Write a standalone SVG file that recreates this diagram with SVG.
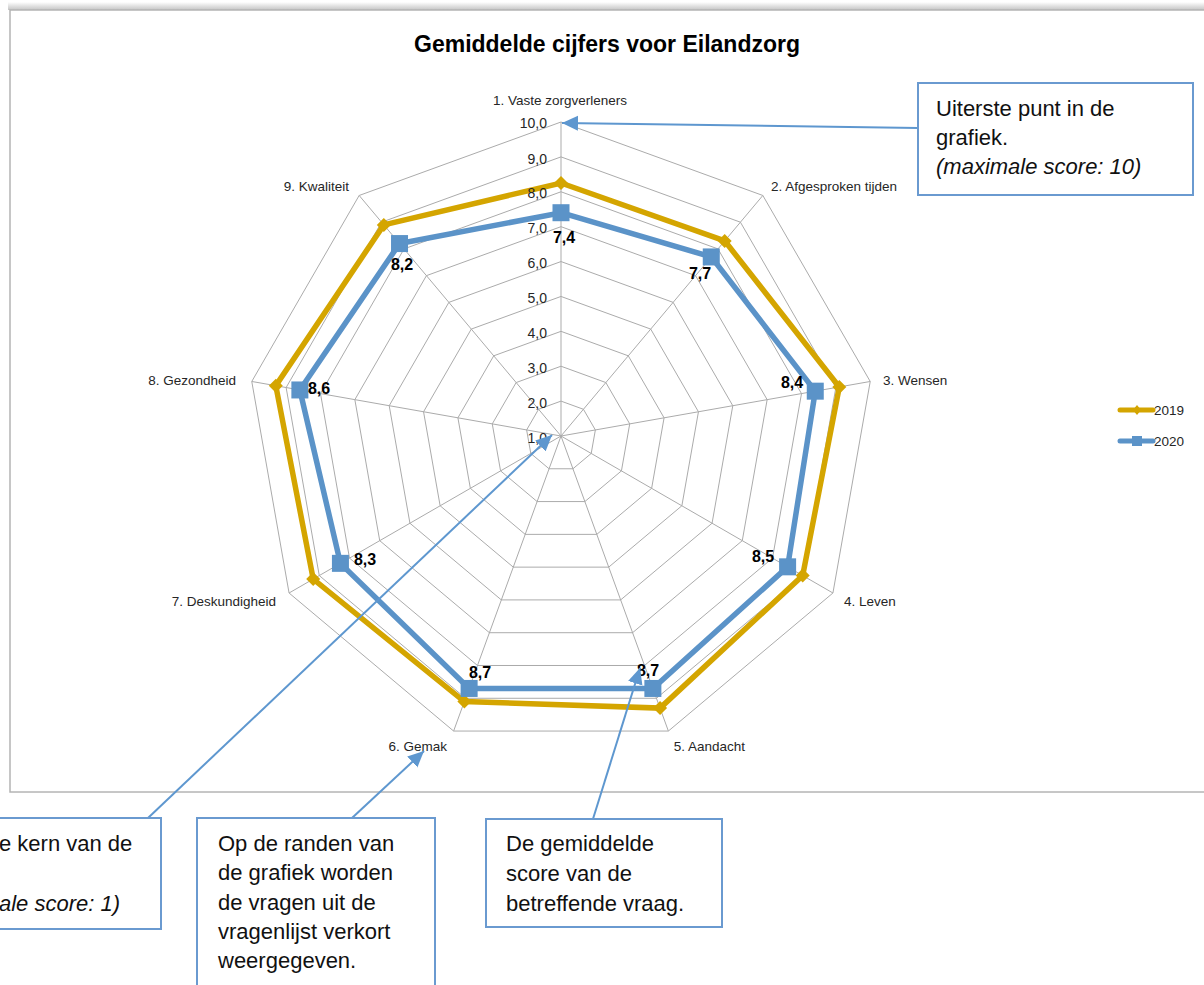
<svg xmlns="http://www.w3.org/2000/svg" xmlns:xlink="http://www.w3.org/1999/xlink" width="1204" height="985" viewBox="0 0 1204 985">
<defs>
<style>
text{font-family:"Liberation Sans",Arial,sans-serif;fill:#000}
.grid{fill:none;stroke:#ababab;stroke-width:1}
.spoke{stroke:#ababab;stroke-width:1}
.ax{font-size:13.5px;fill:#262626}
.tick{font-size:14px;fill:#262626;text-anchor:end}
.dl{font-size:16px;font-weight:bold;text-anchor:middle}
.s19{fill:none;stroke:#d4a500;stroke-width:5.5;stroke-linejoin:miter}
.s20{fill:none;stroke:#5b93c8;stroke-width:5.5;stroke-linejoin:miter}
.box{fill:#fff;stroke:#6a9ad0;stroke-width:2}
.bt{font-size:22px;fill:#111}
.conn{stroke:#5e97cf;stroke-width:2;fill:none}
.leg{font-size:13.5px;fill:#262626}
</style>
<path id="dia" d="M0,-7 L7,0 L0,7 L-7,0 Z" fill="#d4a500"/>
<rect id="sq" x="-8.5" y="-8.5" width="17" height="17" fill="#5b93c8"/>
<marker id="arr" markerUnits="userSpaceOnUse" markerWidth="18" markerHeight="16" refX="16" refY="7.5" orient="auto">
<path d="M0,0 L16,7.5 L0,15 Z" fill="#5e97cf"/>
</marker>
<linearGradient id="shadow" x1="0" y1="0" x2="0" y2="1">
<stop offset="0" stop-color="#ffffff"/>
<stop offset="1" stop-color="#c4c4c4"/>
</linearGradient>
</defs>
<rect x="0" y="0" width="1204" height="985" fill="#fff"/>
<rect x="8" y="2" width="1196" height="8" fill="url(#shadow)"/>
<g id="chart">
<rect x="10" y="10" width="1204" height="782" fill="#fff" stroke="#b4b4b4" stroke-width="1.5"/>
<text x="607" y="52" font-size="23" font-weight="bold" text-anchor="middle">Gemiddelde cijfers voor Eilandzorg</text>
<g transform="translate(561,436)">
<polygon class="grid" points="0,-34.89 22.43,-26.73 34.36,-6.06 30.21,17.44 11.93,32.78 -11.93,32.78 -30.21,17.44 -34.36,-6.06 -22.43,-26.73"/>
<polygon class="grid" points="0,-69.78 44.85,-53.45 68.72,-12.12 60.43,34.89 23.87,65.57 -23.87,65.57 -60.43,34.89 -68.72,-12.12 -44.85,-53.45"/>
<polygon class="grid" points="0,-104.67 67.28,-80.18 103.08,-18.18 90.64,52.33 35.8,98.36 -35.8,98.36 -90.64,52.33 -103.08,-18.18 -67.28,-80.18"/>
<polygon class="grid" points="0,-139.56 89.71,-106.91 137.44,-24.23 120.86,69.78 47.73,131.14 -47.73,131.14 -120.86,69.78 -137.44,-24.23 -89.71,-106.91"/>
<polygon class="grid" points="0,-174.44 112.13,-133.63 171.79,-30.29 151.07,87.22 59.66,163.92 -59.66,163.92 -151.07,87.22 -171.79,-30.29 -112.13,-133.63"/>
<polygon class="grid" points="0,-209.33 134.56,-160.35 206.15,-36.35 181.28,104.67 71.59,196.71 -71.59,196.71 -181.28,104.67 -206.15,-36.35 -134.56,-160.35"/>
<polygon class="grid" points="0,-244.22 156.98,-187.08 240.51,-42.41 211.5,122.11 83.53,229.49 -83.53,229.49 -211.5,122.11 -240.51,-42.41 -156.98,-187.08"/>
<polygon class="grid" points="0,-279.11 179.41,-213.81 274.87,-48.47 241.72,139.56 95.46,262.28 -95.46,262.28 -241.72,139.56 -274.87,-48.47 -179.41,-213.81"/>
<polygon class="grid" points="0,-314 201.83,-240.53 309.23,-54.53 271.93,157 107.39,295.06 -107.39,295.06 -271.93,157 -309.23,-54.53 -201.83,-240.53"/>
<path class="spoke" d="M0,0L0,-314M0,0L201.83,-240.53M0,0L309.23,-54.53M0,0L271.93,157M0,0L107.39,295.06M0,0L-107.39,295.06M0,0L-271.93,157M0,0L-309.23,-54.53M0,0L-201.83,-240.53"/>
<polygon class="s19" points="0,-253 163.7,-195.1 278.3,-49.07 241.7,139.6 99.04,272.1 -96.65,265.6 -247.8,143.05 -285.2,-50.3 -177.2,-211.1"/>
<use href="#dia" x="0" y="-253"/><use href="#dia" x="163.7" y="-195.1"/><use href="#dia" x="278.3" y="-49.07"/><use href="#dia" x="241.7" y="139.6"/><use href="#dia" x="99.04" y="272.1"/><use href="#dia" x="-96.65" y="265.6"/><use href="#dia" x="-247.8" y="143.05"/><use href="#dia" x="-285.2" y="-50.3"/><use href="#dia" x="-177.2" y="-211.1"/>
<polygon class="s20" points="0,-223.29 150.26,-179.07 254.26,-44.83 226.61,130.83 91.88,252.45 -91.88,252.45 -220.57,127.35 -261.13,-46.04 -161.47,-192.43"/>
<use href="#sq" x="0" y="-223.29"/><use href="#sq" x="150.26" y="-179.07"/><use href="#sq" x="254.26" y="-44.83"/><use href="#sq" x="226.61" y="130.83"/><use href="#sq" x="91.88" y="252.45"/><use href="#sq" x="-91.88" y="252.45"/><use href="#sq" x="-220.57" y="127.35"/><use href="#sq" x="-261.13" y="-46.04"/><use href="#sq" x="-161.47" y="-192.43"/>
</g>
<text class="tick" x="547" y="127.5">10,0</text>
<text class="tick" x="547" y="163.5">9,0</text>
<text class="tick" x="547" y="198">8,0</text>
<text class="tick" x="547" y="233">7,0</text>
<text class="tick" x="547" y="268">6,0</text>
<text class="tick" x="547" y="303">5,0</text>
<text class="tick" x="547" y="338">4,0</text>
<text class="tick" x="547" y="373">3,0</text>
<text class="tick" x="547" y="408">2,0</text>
<text class="tick" x="547" y="443">1,0</text>
<text class="ax" x="560" y="105" text-anchor="middle">1. Vaste zorgverleners</text>
<text class="ax" x="771" y="191">2. Afgesproken tijden</text>
<text class="ax" x="883" y="385">3. Wensen</text>
<text class="ax" x="844" y="606">4. Leven</text>
<text class="ax" x="745" y="751" text-anchor="end">5. Aandacht</text>
<text class="ax" x="447" y="751" text-anchor="end">6. Gemak</text>
<text class="ax" x="276" y="606" text-anchor="end">7. Deskundigheid</text>
<text class="ax" x="236" y="385" text-anchor="end">8. Gezondheid</text>
<text class="ax" x="349" y="191" text-anchor="end">9. Kwaliteit</text>
<text class="dl" x="564" y="243">7,4</text>
<text class="dl" x="700" y="279">7,7</text>
<text class="dl" x="792" y="388">8,4</text>
<text class="dl" x="763" y="562">8,5</text>
<text class="dl" x="648" y="676">8,7</text>
<text class="dl" x="480" y="678">8,7</text>
<text class="dl" x="365" y="565">8,3</text>
<text class="dl" x="319" y="394">8,6</text>
<text class="dl" x="402" y="270">8,2</text>
<g id="legend">
<line x1="1120" y1="410" x2="1153" y2="410" stroke="#d4a500" stroke-width="5" stroke-linecap="round"/>
<path d="M1137,405 L1141,410 L1137,415 L1133,410 Z" fill="#d4a500"/>
<text class="leg" x="1154" y="415">2019</text>
<line x1="1120" y1="441" x2="1153" y2="441" stroke="#5b93c8" stroke-width="5" stroke-linecap="round"/>
<rect x="1132" y="436" width="10" height="10" fill="#5b93c8"/>
<text class="leg" x="1154" y="446">2020</text>
</g>
</g>
<g id="connectors">
<line class="conn" x1="918" y1="128" x2="562" y2="123" marker-end="url(#arr)"/>
<line class="conn" x1="148" y1="818" x2="552" y2="435" marker-end="url(#arr)"/>
<line class="conn" x1="352" y1="818" x2="424" y2="751" marker-end="url(#arr)"/>
<line class="conn" x1="593" y1="819" x2="640" y2="668" marker-end="url(#arr)"/>
</g>
<g id="callout-max">
<rect class="box" x="918" y="83" width="275" height="112"/>
<text class="bt" x="936" y="116">Uiterste punt in de</text>
<text class="bt" x="936" y="145">grafiek.</text>
<text class="bt" x="936" y="174" font-style="italic">(maximale score: 10)</text>
</g>
<g id="callout-min">
<rect class="box" x="-10" y="818" width="171" height="111"/>
<text class="bt" x="-1" y="851">e kern van de</text>
<text class="bt" x="-1" y="911" font-style="italic">ale score: 1)</text>
</g>
<g id="callout-randen">
<rect class="box" x="197" y="818" width="238" height="180"/>
<text class="bt" x="218" y="851">Op de randen van</text>
<text class="bt" x="218" y="880">de grafiek worden</text>
<text class="bt" x="218" y="910">de vragen uit de</text>
<text class="bt" x="218" y="939">vragenlijst verkort</text>
<text class="bt" x="218" y="968">weergegeven.</text>
</g>
<g id="callout-score">
<rect class="box" x="486" y="819" width="236" height="108"/>
<text class="bt" x="506" y="851">De gemiddelde</text>
<text class="bt" x="506" y="881">score van de</text>
<text class="bt" x="506" y="911">betreffende vraag.</text>
</g>
</svg>
